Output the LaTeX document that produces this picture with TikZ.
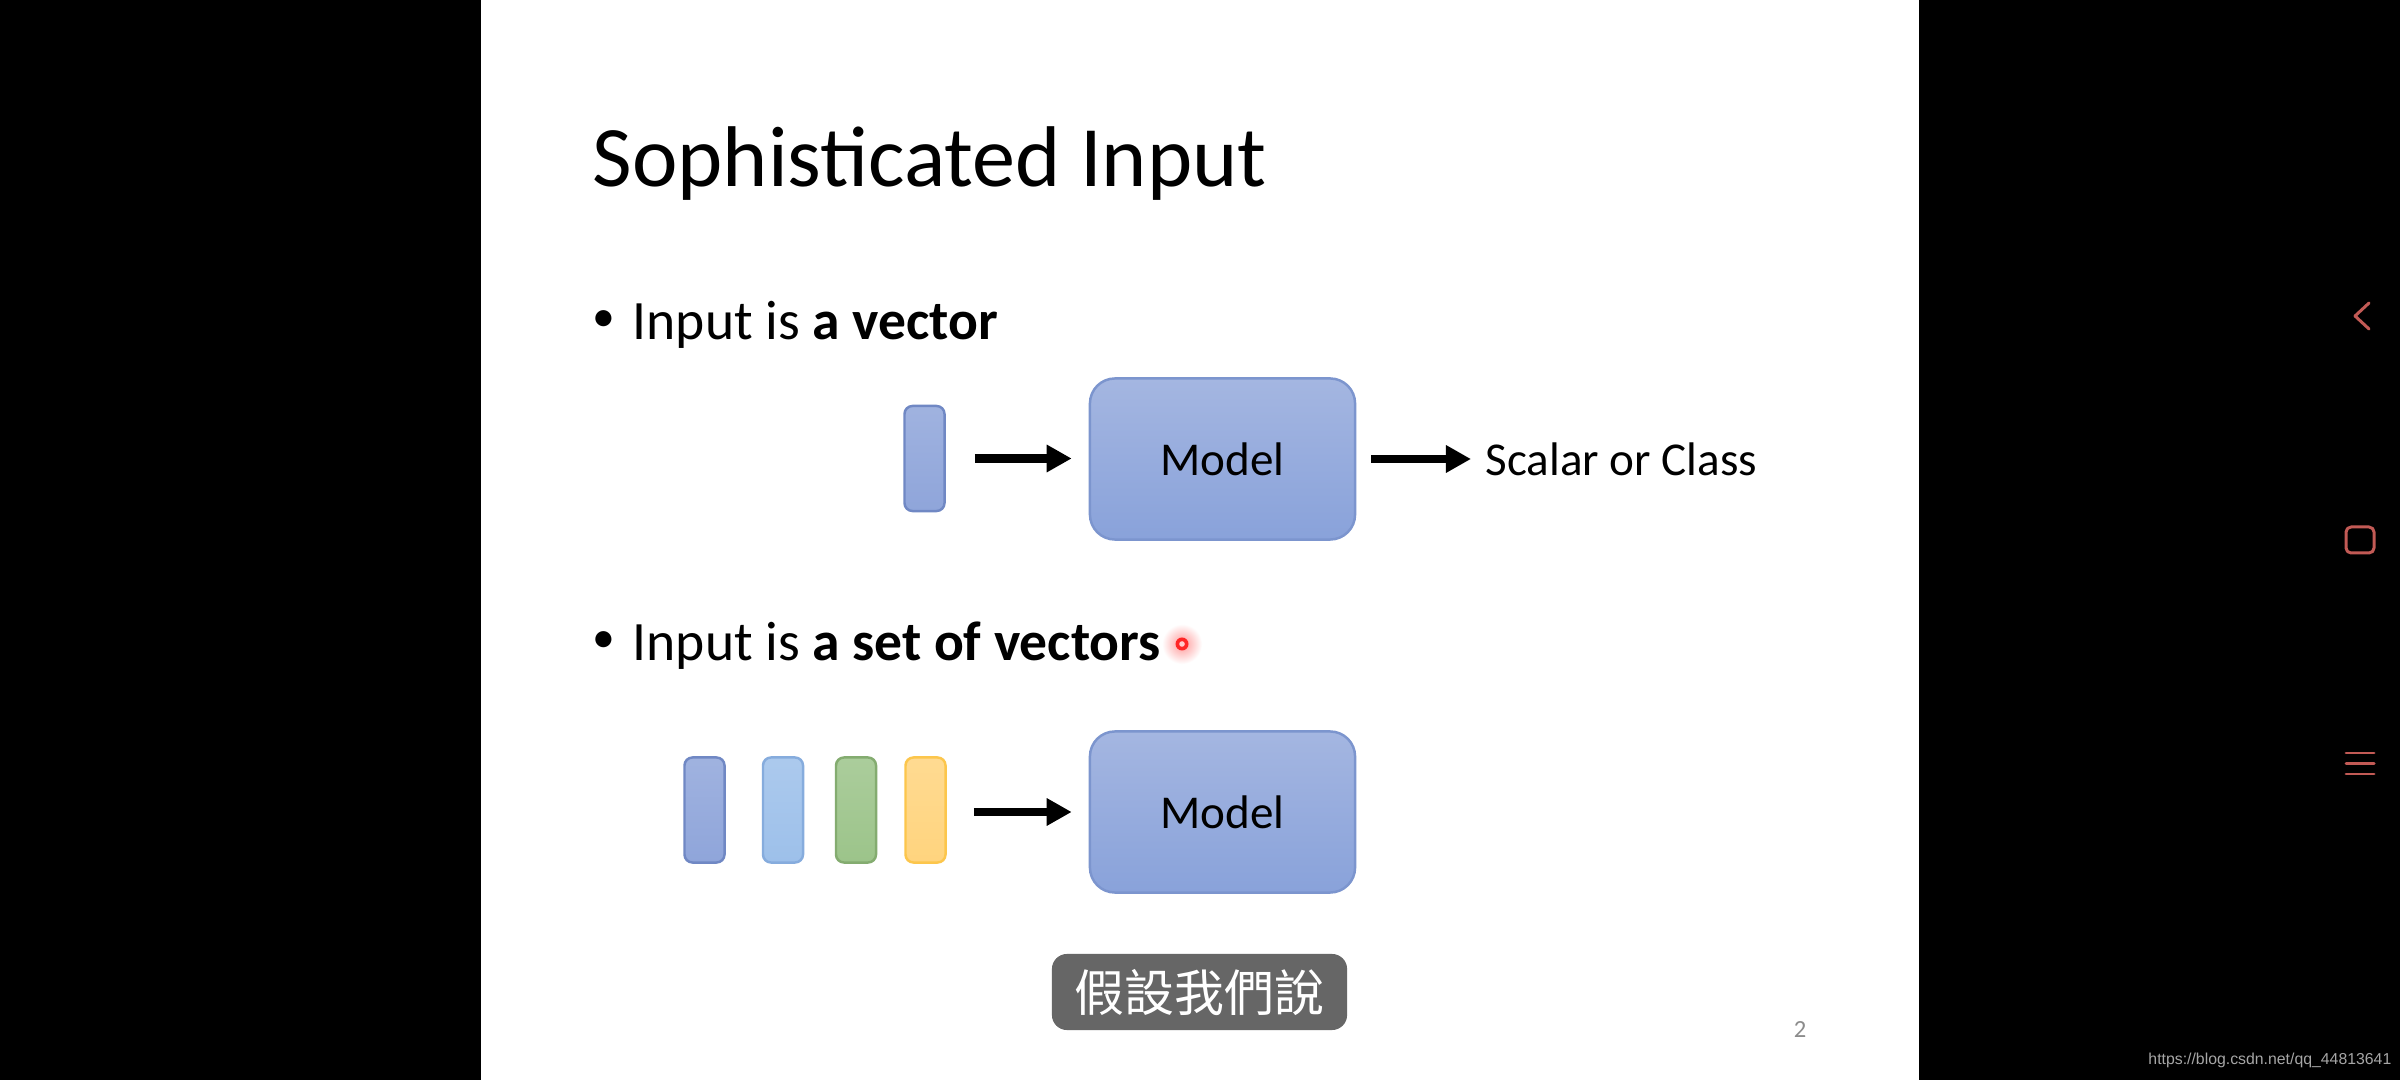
\documentclass[tikz,border=0pt]{standalone}
\usepackage{fontspec}
\setmainfont{Carlito}
\newfontfamily\cjkfont{Noto Sans CJK TC}
\newfontfamily\arialfont{Liberation Sans}
\usetikzlibrary{arrows.meta}
\definecolor{modeltop}{HTML}{A4B6E1}
\definecolor{modelbot}{HTML}{89A2DA}
\definecolor{modelborder}{HTML}{7C95CE}
\definecolor{vAfill}{HTML}{8FA5DA}
\definecolor{vAdraw}{HTML}{7088C4}
\definecolor{vBfill}{HTML}{9DC0EA}
\definecolor{vBdraw}{HTML}{86ACDD}
\definecolor{vCfill}{HTML}{9CC48A}
\definecolor{vCdraw}{HTML}{84AC70}
\definecolor{vDfill}{HTML}{FFD47E}
\definecolor{vDdraw}{HTML}{FCC64C}
\definecolor{subbg}{HTML}{666666}
\definecolor{iconred}{HTML}{C25A55}
\tikzset{
  vecbox/.style={rounded corners=0.08cm, minimum width=0.40cm, minimum height=1.05cm, inner sep=0pt, line width=0.7pt},
  modelbox/.style={draw=modelborder, line width=0.7pt, rounded corners=0.25cm, top color=modeltop, bottom color=modelbot,
    minimum width=2.65cm, minimum height=1.61cm, inner sep=0pt, font=\fontsize{13.4pt}{16pt}\selectfont},
  arr/.style={line width=2.5pt, -{Triangle[length=0.25cm,width=0.26cm]}},
  bulletfont/.style={font=\fontsize{15.8pt}{19pt}\selectfont},
  dotfont/.style={font=\fontsize{13pt}{15pt}\selectfont},
  txt/.style={anchor=base west, inner sep=0pt},
  icon/.style={draw=iconred, line width=0.85pt, line cap=round, line join=round}
}
\begin{document}
\begin{tikzpicture}[x=0.01cm,y=-0.01cm]
\fill[black] (0,0) rectangle (2400,1080);
\fill[white] (481,0) rectangle (1919,1080);
\useasboundingbox (0,0) rectangle (2400,1080);

% title
\node[txt, font=\fontsize{24.5pt}{29pt}\selectfont] (title) at (592,187) {Sophisticated Input};

% bullet 1
\node[inner sep=0pt, dotfont] (dot1) at (604,321) {•};
\node[txt, bulletfont] (b1) at (632,340) {Input is \textbf{a vector}};

% top row
\node[vecbox, draw=vAdraw, top color=vAfill!85!white, bottom color=vAfill] (v0) at (924.5,458.5) {};
\node[modelbox] (m1) at (1222.5,459) {Model};
\node[txt, font=\fontsize{13.4pt}{16pt}\selectfont] (out) at (1485,476) {Scalar or Class};
\draw[arr, shorten <=0.29cm, shorten >=0.17cm] (v0.east) -- (v0.east -| m1.west);
\draw[arr, shorten <=0.15cm, shorten >=0.14cm] (m1.east) -- (m1.east -| out.west);

% bullet 2
\node[inner sep=0pt, dotfont] (dot2) at (604,642) {•};
\node[txt, bulletfont] (b2) at (632,661) {Input is \textbf{a set of vectors}};

% laser pointer dot
\shade[inner color=red!40!white, outer color=white] (1182,644) circle (0.2cm);
\fill[red!85!white] (1182,644) circle (0.065cm);
\fill[red!20!white] (1182,644) circle (0.028cm);

% bottom row
\node[vecbox, draw=vAdraw, top color=vAfill!85!white, bottom color=vAfill] (va) at (704.5,810) {};
\node[vecbox, draw=vBdraw, top color=vBfill!85!white, bottom color=vBfill] (vb) at (783,810) {};
\node[vecbox, draw=vCdraw, top color=vCfill!85!white, bottom color=vCfill] (vc) at (856,810) {};
\node[vecbox, draw=vDdraw, top color=vDfill!85!white, bottom color=vDfill] (vd) at (925.5,810) {};
\node[modelbox] (m2) at (1222.5,812) {Model};
\draw[arr, shorten <=0.27cm, shorten >=0.17cm] (vd.east |- m2.west) -- (m2.west);

% subtitle
\node[fill=subbg, rounded corners=0.15cm, minimum width=2.95cm, minimum height=0.76cm, inner sep=0pt,
      text=white, font=\cjkfont\fontsize{14.2pt}{17pt}\selectfont] (sub) at (1199.5,992) {假設我們說};

% page number
\node[inner sep=0pt, text=black!45, font=\fontsize{7pt}{8pt}\selectfont] (pnum) at (1800,1030) {2};

% watermark
\node[anchor=east, inner sep=0pt, text=black!35, font=\arialfont\fontsize{4.5pt}{5pt}\selectfont] (wm) at (2392,1060) {https://blog.csdn.net/qq\_44813641};

% right-side icons
\coordinate (chA) at (2369,303);
\coordinate (chB) at (2355,316);
\coordinate (chC) at (2369,329);
\draw[icon] (chA) -- (chB) -- (chC);
\coordinate (sqA) at (2346,527);
\coordinate (sqB) at (2374,553);
\draw[icon, rounded corners=0.05cm] (sqA) rectangle (sqB);
\coordinate (hA1) at (2346,753); \coordinate (hB1) at (2374,753);
\coordinate (hA2) at (2346,763.5); \coordinate (hB2) at (2374,763.5);
\coordinate (hA3) at (2346,774); \coordinate (hB3) at (2374,774);
\draw[icon] (hA1) -- (hB1);
\draw[icon] (hA2) -- (hB2);
\draw[icon] (hA3) -- (hB3);
\end{tikzpicture}
\end{document}
